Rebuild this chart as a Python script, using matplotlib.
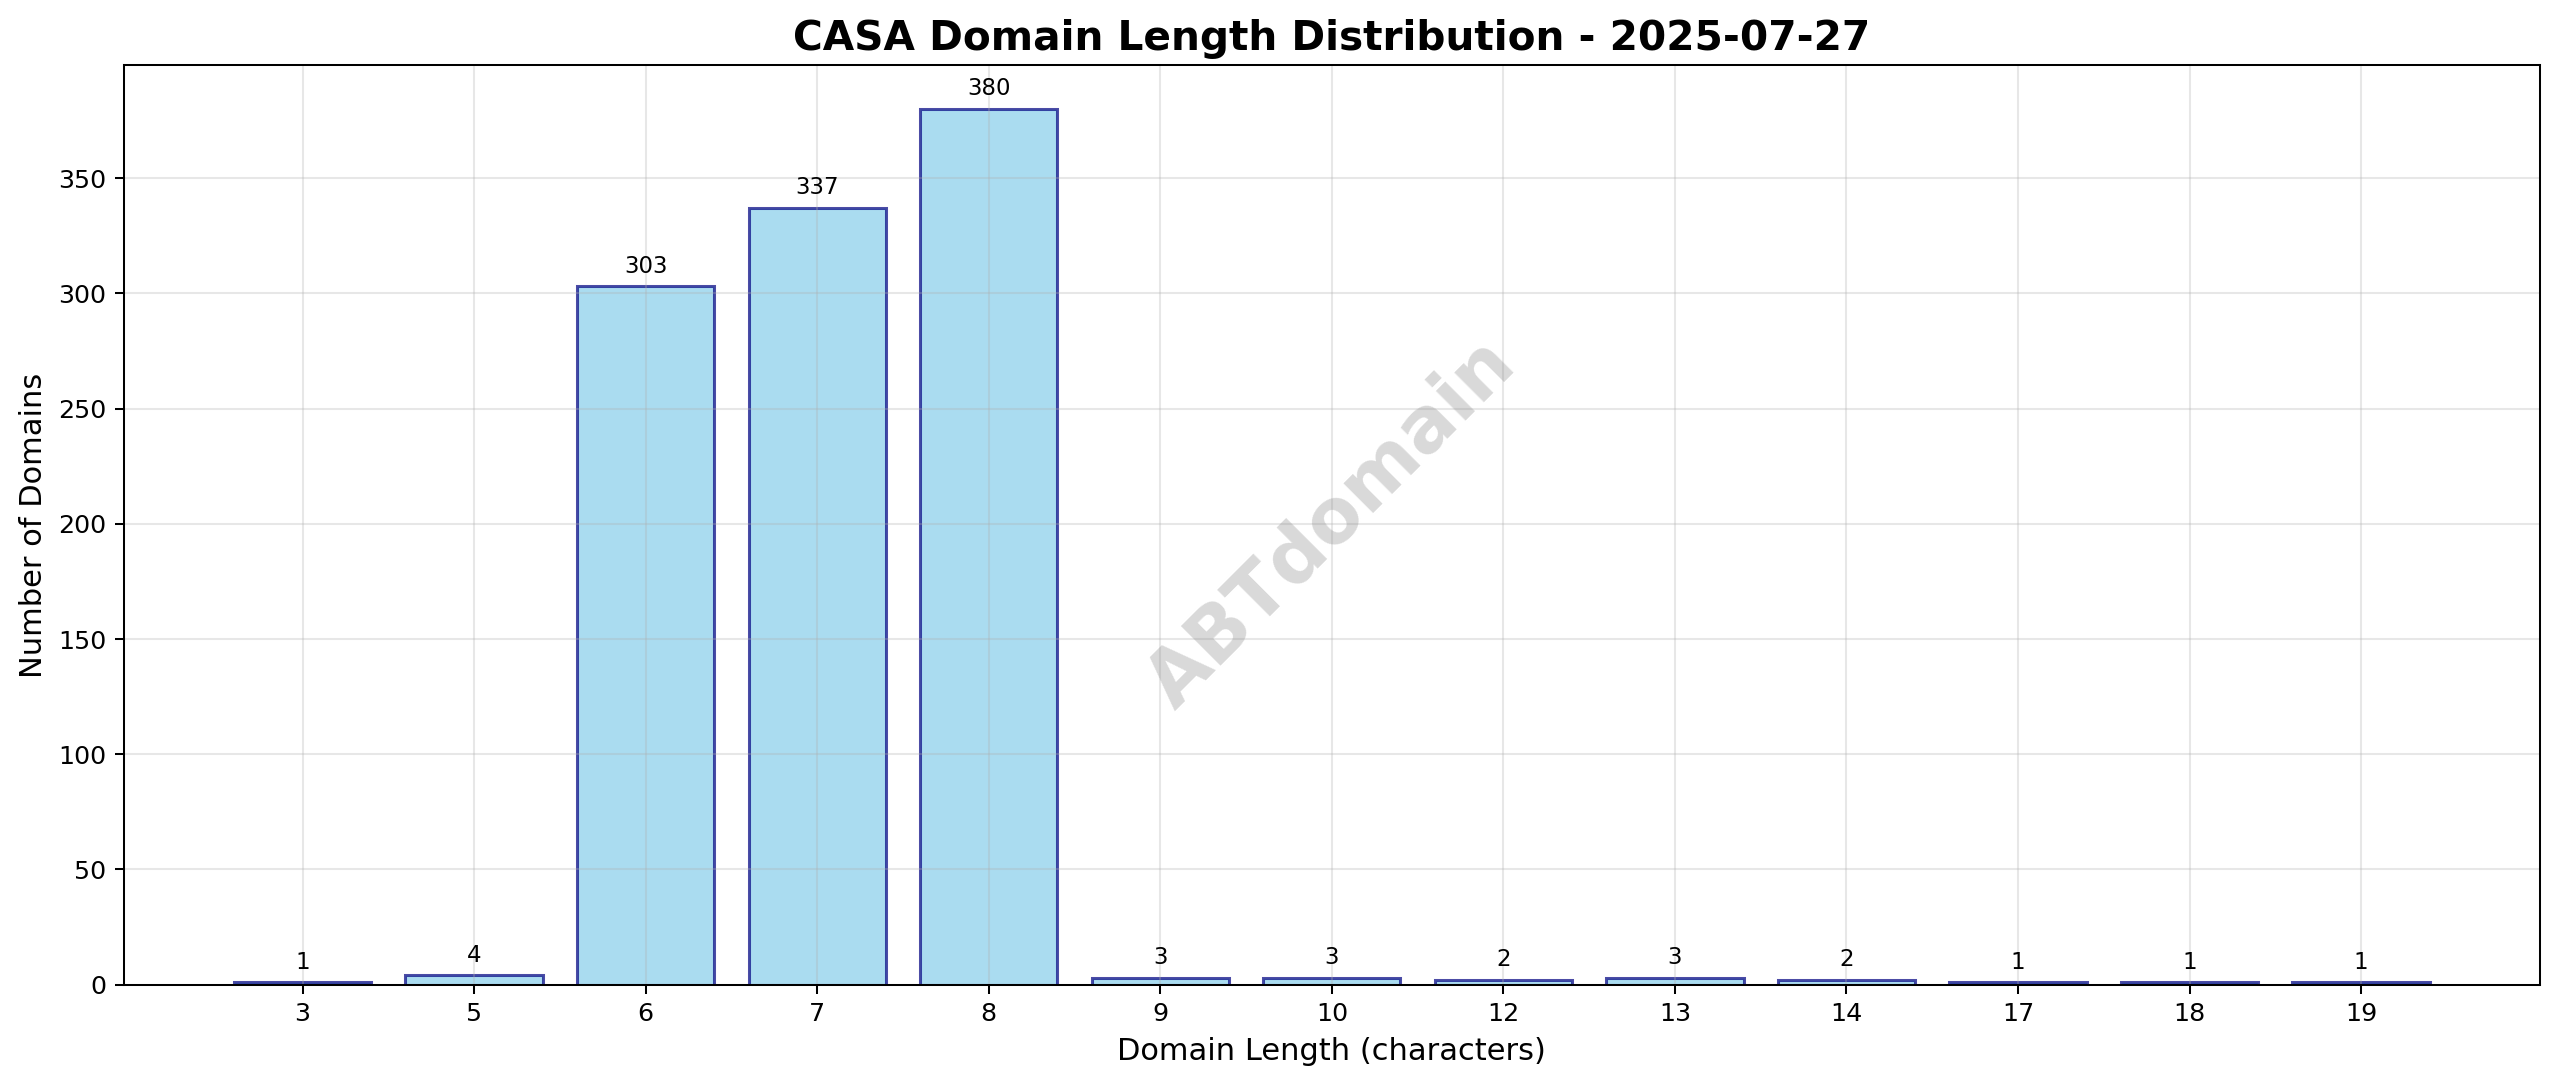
import matplotlib
matplotlib.use("Agg")
import matplotlib.pyplot as plt

# Domain length distribution
lengths = ["3", "5", "6", "7", "8", "9", "10", "12", "13", "14", "17", "18", "19"]
counts = [1, 4, 303, 337, 380, 3, 3, 2, 3, 2, 1, 1, 1]
date_str = "2025-07-27"

DPI = 2560 / 14
fig, ax = plt.subplots(figsize=(14, 1088 / DPI), dpi=DPI)

x = range(len(lengths))
bars = ax.bar(x, counts, color="skyblue", edgecolor="navy", alpha=0.7, linewidth=1.2)

for bar, c in zip(bars, counts):
    ax.text(bar.get_x() + bar.get_width() / 2, bar.get_height() + max(counts) * 0.01,
            str(c), ha="center", va="bottom", fontsize=9)

ax.set_xticks(list(x))
ax.set_xticklabels(lengths)
ax.set_title(f"CASA Domain Length Distribution - {date_str}", fontsize=16, fontweight="bold")
ax.set_xlabel("Domain Length (characters)", fontsize=12)
ax.set_ylabel("Number of Domains", fontsize=12)
ax.grid(True, alpha=0.3)

# watermark
ax.text(0.5, 0.5, "ABTdomain", transform=ax.transAxes, fontsize=30, fontweight="bold",
        color="gray", alpha=0.3, ha="center", va="center", rotation=45)

plt.subplots_adjust(left=0.0485, right=0.992, top=0.94, bottom=0.095)
plt.savefig("out.png", dpi=DPI)
